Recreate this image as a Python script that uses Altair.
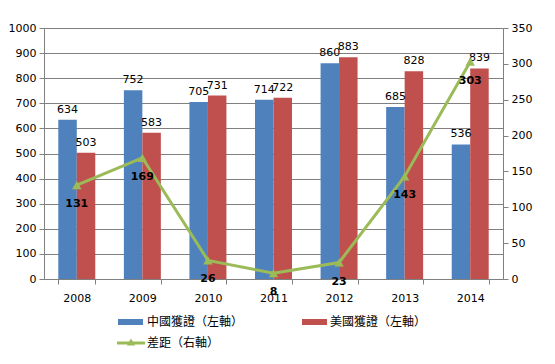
import altair as alt
import pandas as pd

years = ["2008", "2009", "2010", "2011", "2012", "2013", "2014"]
china = [634, 752, 705, 714, 860, 685, 536]
usa = [503, 583, 731, 722, 883, 828, 839]
diff = [131, 169, 26, 8, 23, 143, 303]

s_cn = "中國獲證（左軸）"
s_us = "美國獲證（左軸）"
s_df = "差距（右軸）"

BLUE, RED, GREEN = "#4F81BD", "#C0504D", "#9BBB59"
FONT = "DejaVu Sans"
CJK = "Noto Sans CJK TC"
GRID = "#808080"

bars_df = pd.DataFrame(
    [{"year": y, "series": s_cn, "value": v} for y, v in zip(years, china)]
    + [{"year": y, "series": s_us, "value": v} for y, v in zip(years, usa)]
)
line_df = pd.DataFrame({"year": years, "diff": diff})

xenc = alt.X(
    "year:N",
    title=None,
    scale=alt.Scale(paddingInner=0.436, paddingOuter=0.218),
    axis=alt.Axis(
        labelAngle=0, tickBand="extent", tickSize=5, labelPadding=8,
        labelFont=FONT, labelFontSize=11, labelColor="#000",
        domainColor=GRID, tickColor=GRID,
    ),
)
yleft = alt.Y(
    "value:Q",
    title=None,
    scale=alt.Scale(domain=[0, 1000], nice=False),
    axis=alt.Axis(
        values=list(range(0, 1001, 100)), format="d", orient="left", grid=True,
        gridColor=GRID, gridOpacity=1, domainColor=GRID, tickColor=GRID,
        tickSize=5, labelFont=FONT, labelFontSize=11, labelColor="#000",
        labelPadding=3,
    ),
)
color = alt.Color(
    "series:N",
    scale=alt.Scale(domain=[s_cn, s_us], range=[BLUE, RED]),
    legend=None,
)
xoff = alt.XOffset("series:N", scale=alt.Scale(domain=[s_cn, s_us]))

bars = alt.Chart(bars_df).mark_bar().encode(x=xenc, y=yleft, xOffset=xoff, color=color)
bar_text = alt.Chart(bars_df).mark_text(
    baseline="bottom", dy=-5, font=FONT, fontSize=11, color="#000"
).encode(x=xenc, y=yleft, xOffset=xoff, text="value:Q")
left = alt.layer(bars, bar_text)

yright = alt.Y(
    "diff:Q",
    title=None,
    scale=alt.Scale(domain=[0, 350], nice=False),
    axis=alt.Axis(
        values=list(range(0, 351, 50)), format="d", orient="right", grid=False,
        domainColor=GRID, tickColor=GRID, tickSize=5,
        labelFont=FONT, labelFontSize=11, labelColor="#000", labelPadding=3,
    ),
)
line = alt.Chart(line_df).mark_line(color=GREEN, strokeWidth=3).encode(x="year:N", y=yright)
pts = alt.Chart(line_df).mark_point(
    shape="triangle-up", filled=True, color=GREEN, size=90, opacity=1
).encode(x="year:N", y=yright)
line_text = alt.Chart(line_df).mark_text(
    baseline="middle", dy=19, font=FONT, fontSize=11, fontWeight="bold", color="#000"
).encode(x="year:N", y=yright, text="diff:Q")

# manual legend
one = alt.Data(values=[{}])
leg_blue = alt.Chart(one).mark_rect(color=BLUE).encode(
    x=alt.value(74), x2=alt.value(99), y=alt.value(291), y2=alt.value(297))
leg_red = alt.Chart(one).mark_rect(color=RED).encode(
    x=alt.value(258), x2=alt.value(283), y=alt.value(291), y2=alt.value(297))
leg_line = alt.Chart(one).mark_rule(color=GREEN, strokeWidth=3).encode(
    x=alt.value(73), x2=alt.value(101), y=alt.value(315))
leg_tri = alt.Chart(one).mark_point(
    shape="triangle-up", filled=True, color=GREEN, size=70, opacity=1
).encode(x=alt.value(87), y=alt.value(314))
leg_t1 = alt.Chart(one).mark_text(align="left", baseline="middle", font=CJK, fontSize=12, color="#000").encode(
    x=alt.value(103), y=alt.value(294), text=alt.value(s_cn))
leg_t2 = alt.Chart(one).mark_text(align="left", baseline="middle", font=CJK, fontSize=12, color="#000").encode(
    x=alt.value(286), y=alt.value(294), text=alt.value(s_us))
leg_t3 = alt.Chart(one).mark_text(align="left", baseline="middle", font=CJK, fontSize=12, color="#000").encode(
    x=alt.value(103), y=alt.value(315), text=alt.value(s_df))

right = alt.layer(line, pts, line_text)

chart = (
    alt.layer(left, right, leg_blue, leg_red, leg_line, leg_tri, leg_t1, leg_t2, leg_t3)
    .resolve_scale(y="independent")
    .properties(
        width=459, height=251,
        autosize=alt.AutoSizeParams(type="none"),
        padding={"left": 36, "top": 20, "right": 44, "bottom": 70},
        background="white",
    )
    .configure_view(stroke=None)
)

chart.save("out.html", embed_options={"renderer": "svg", "actions": False})
